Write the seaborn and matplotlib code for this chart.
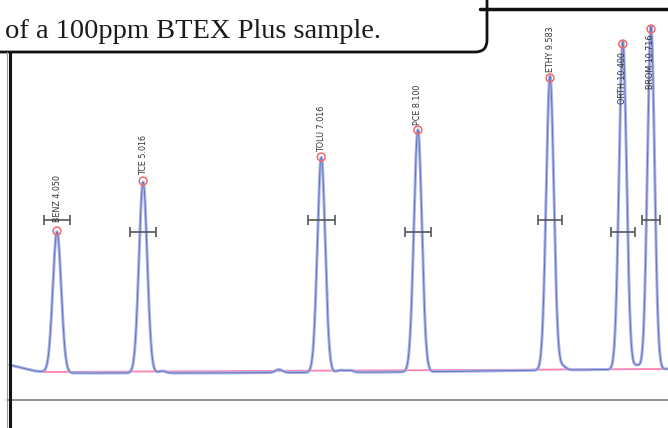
import numpy as np
import pandas as pd
import seaborn as sns
import matplotlib.pyplot as plt
from matplotlib.patches import FancyBboxPatch

# peaks (retention time in min, height in detector units)
names = ['BENZ', 'TCE', 'TOLU', 'PCE', 'ETHY', 'ORTH', 'BROM']
rt = [4.050, 5.016, 7.016, 8.100, 9.583, 10.400, 10.716]
height = [141, 191, 215, 242, 294, 328, 343]
sigma = [0.047, 0.046, 0.044, 0.045, 0.043, 0.042, 0.040]
half_y = [152, 140, 152, 140, 152, 140, 152]
half_w = [0.30, 0.30, 0.30, 0.29, 0.27, 0.27, 0.20]
label_off = [9, 6, 5, 5, 6, -8, -6]

# small bumps / tailing shoulders
minor_rt = [5.23, 6.54, 7.23, 7.33, 9.72, 10.56]
minor_h = [2, 3, 2, 2, 4, 4]

# detector baseline drift and integration baseline
base_t = [3.52, 3.80, 4.08, 5.66, 7.90, 9.70, 10.91]
base_s = [7, 1, -1, -1, 0, 2, 3]
integ_t = [3.86, 10.91]
integ_s = [0, 3]

t = np.linspace(3.52, 10.91, 4000)
signal = np.interp(t, base_t, base_s)
for r, h, s in zip(rt, height, sigma):
    signal = signal + h * np.exp(-0.5 * ((t - r) / s) ** 2)
for r, h in zip(minor_rt, minor_h):
    signal = signal + h * np.exp(-0.5 * ((t - r) / 0.04) ** 2)
trace = pd.DataFrame({'time': t, 'signal': signal})
integ = pd.DataFrame({'time': integ_t, 'signal': integ_s})
peaks = pd.DataFrame({'time': rt, 'signal': height})

sns.set_style('white')
fig = plt.figure(figsize=(6.68, 4.28), dpi=100)
ax = fig.add_axes([0, 0, 1, 1])

sns.lineplot(data=integ, x='time', y='signal', color='#ff82b4', lw=1.3, ax=ax)
sns.lineplot(data=trace, x='time', y='signal', color='#adb5e6', lw=2.2, ax=ax)
sns.lineplot(data=trace, x='time', y='signal', color='#6674bf', lw=0.7, ax=ax)
ax.errorbar(rt, half_y, xerr=np.array(half_w) / 2, fmt='none', ecolor='#555555',
            elinewidth=1.2, capsize=3.5, capthick=1.2)
sns.scatterplot(data=peaks, x='time', y='signal', s=32, facecolor='none',
                edgecolor='#f26a6a', linewidth=1.1, ax=ax, zorder=5)
for n, r, h, off in zip(names, rt, height, label_off):
    ax.text(r, h + off, f'{n} {r:.3f}', rotation=90, ha='center',
            va='bottom' if off > 0 else 'top', fontsize=5.8, color='#333333',
            family='DejaVu Sans')

ax.set_xlim(3.410, 10.907)
ax.set_ylim(-56, 372)
ax.axis('off')

# page frame and caption box, in pixel coordinates
ov = fig.add_axes([0, 0, 1, 1])
ov.set_xlim(0, 668)
ov.set_ylim(428, 0)
ov.axis('off')
ov.patch.set_alpha(0)
ov.plot([7, 668], [400, 400], color='#8a8a8a', lw=1.3)
ov.plot([7, 7], [52, 428], color='#999999', lw=0.8)
ov.plot([10, 10], [52, 428], color='#111111', lw=2.2)
ov.plot([480, 668], [9, 9], color='#111111', lw=2.5)
box = FancyBboxPatch((-20, -20), 507, 72, boxstyle='round,pad=0,rounding_size=12',
                     facecolor='white', edgecolor='#111111', lw=2)
ov.add_patch(box)
ov.text(5, 38, 'of a 100ppm BTEX Plus sample.', family='Liberation Serif',
        fontsize=20.5, color='#1a1a1a', va='baseline', ha='left')

fig.savefig('out.png', dpi=100)
